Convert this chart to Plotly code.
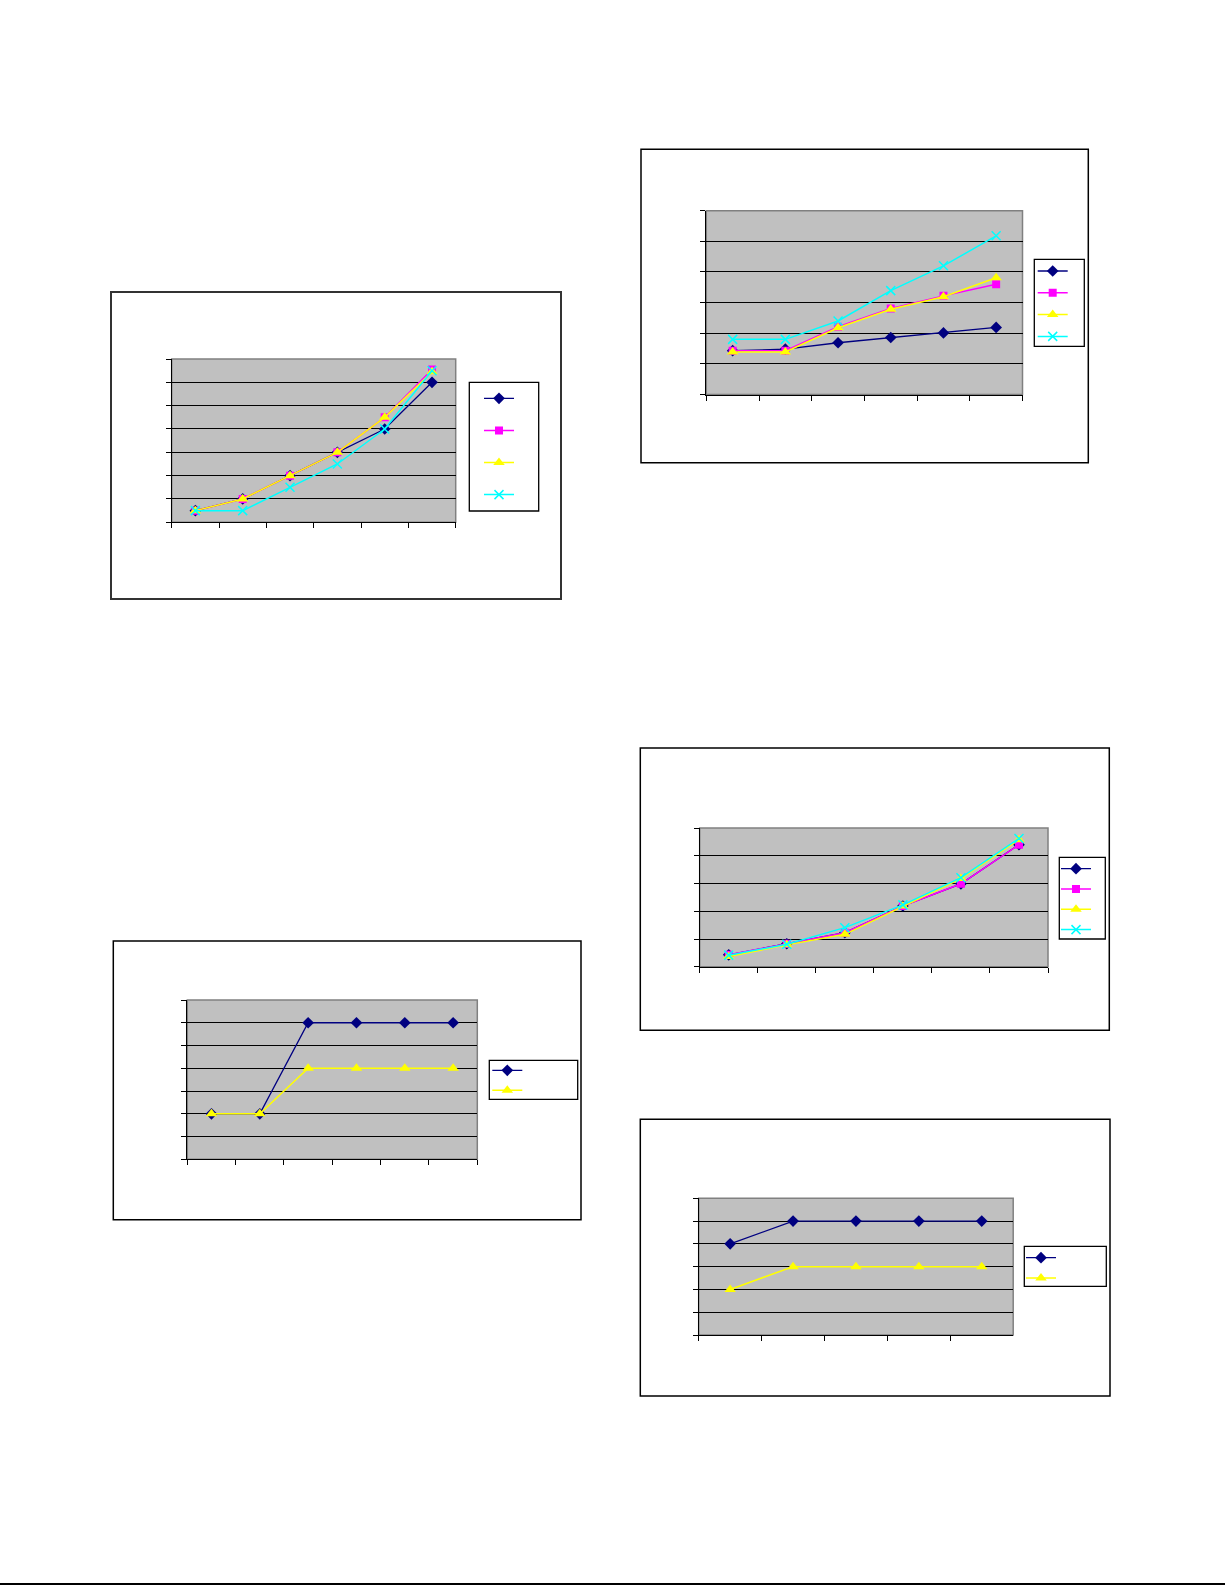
import plotly.graph_objects as go

W, H = 1225, 1585

# ---------------- data ----------------
cats6 = ["1", "2", "3", "4", "5", "6"]
cats5 = ["1", "2", "3", "4", "5"]

# chart A (top left)
a_navy = [5, 10, 20, 30, 40, 60]
a_pink = [5, 10, 20, 30, 45, 65.5]
a_yellow = [5, 10, 20, 30, 45, 64.5]
a_cyan = [5, 5, 15, 25, 40, 65]

# chart B (top right)
b_navy = [14.3, 14.8, 16.9, 18.6, 20.1, 21.9]
b_pink = [14.3, 14.3, 22.1, 28.1, 32.2, 36.0]
b_yellow = [13.9, 13.9, 21.8, 27.8, 31.9, 38.1]
b_cyan = [18.0, 18.0, 24.0, 33.9, 42.0, 51.8]

# chart C (bottom left)
c_navy = [20, 20, 60, 60, 60, 60]
c_yellow = [20, 20, 40, 40, 40, 40]

# chart D (middle right)
d_navy = [4.3, 8.3, 12.3, 21.9, 29.9, 44.0]
d_pink = [4.3, 8.3, 12.3, 21.9, 29.9, 44.0]
d_yellow = [3.7, 7.9, 11.7, 21.9, 31.8, 45.8]
d_cyan = [4.2, 8.1, 14.1, 22.3, 32.1, 46.2]

# chart E (bottom right)
e_navy = [40, 50, 50, 50, 50]
e_yellow = [20, 30, 30, 30, 30]

# ---------------- styles ----------------
STY = {
    "navy": dict(color="#000080", symbol="diamond", size=9, lw=1.3),
    "pink": dict(color="#FF00FF", symbol="square", size=8, lw=1.5),
    "yellow": dict(color="#FFFF00", symbol="triangle-up", size=10, lw=1.5),
    "cyan": dict(color="#00FFFF", symbol="x-thin", size=9, lw=1.5),
}


def fx(px):
    return px / W


def fy(py):
    return 1 - py / H


charts = [
    dict(frame=(111, 292, 561, 599), fcol="#333333", fw=2,
         plot=(171.7, 359, 455.7, 522.3), ymax=70, cats=cats6,
         series=[("navy", a_navy), ("pink", a_pink), ("yellow", a_yellow), ("cyan", a_cyan)],
         lbox=(469.3, 382.3, 538.7, 511), lfirst=398.3, lstep=32.1, lmark=499),
    dict(frame=(641, 149.3, 1088.3, 462.7), fcol="black", fw=1.5,
         plot=(706.3, 210.7, 1022.5, 394.5), ymax=60, cats=cats6,
         series=[("navy", b_navy), ("pink", b_pink), ("yellow", b_yellow), ("cyan", b_cyan)],
         lbox=(1034.3, 259.3, 1084.3, 346.3), lfirst=271, lstep=21.8, lmark=1052.7),
    dict(frame=(113.3, 941, 581, 1219.7), fcol="black", fw=1.5,
         plot=(187.3, 1000, 477.3, 1159.3), ymax=70, cats=cats6,
         series=[("navy", c_navy), ("yellow", c_yellow)],
         lbox=(489.3, 1060.3, 577.7, 1099.3), lfirst=1070.3, lstep=20, lmark=507.3),
    dict(frame=(640.3, 748, 1109.3, 1030.3), fcol="black", fw=1.5,
         plot=(699.7, 828, 1048, 966.8), ymax=50, cats=cats6,
         series=[("navy", d_navy), ("pink", d_pink), ("yellow", d_yellow), ("cyan", d_cyan)],
         lbox=(1059.3, 857.3, 1105.3, 939), lfirst=868.7, lstep=20.3, lmark=1076),
    dict(frame=(640.3, 1119.3, 1110, 1396), fcol="black", fw=1.5,
         plot=(698.7, 1198.3, 1013.2, 1335), ymax=60, cats=cats5,
         series=[("navy", e_navy), ("yellow", e_yellow)],
         lbox=(1024.3, 1246.3, 1106.3, 1286.3), lfirst=1257.7, lstep=20.3, lmark=1041),
]

fig = go.Figure()
shapes = []
layout = dict(width=W, height=H, margin=dict(l=0, r=0, t=0, b=0),
              paper_bgcolor="white", plot_bgcolor="rgba(0,0,0,0)", showlegend=True)

for i, ch in enumerate(charts):
    n = i + 1
    xa = "x" if n == 1 else f"x{n}"
    ya = "y" if n == 1 else f"y{n}"
    lg = "legend" if n == 1 else f"legend{n}"
    x0, y0, x1, y1 = ch["plot"]
    layout["xaxis" if n == 1 else f"xaxis{n}"] = dict(
        domain=[fx(x0), fx(x1)], anchor=ya, type="category",
        categoryorder="array", categoryarray=ch["cats"],
        range=[-0.5, len(ch["cats"]) - 0.5],
        showticklabels=False, ticks="outside", tickson="boundaries", ticklen=5,
        tickcolor="black", tickwidth=1, showgrid=False, showline=True,
        linecolor="black", linewidth=1, zeroline=False, fixedrange=True)
    layout["yaxis" if n == 1 else f"yaxis{n}"] = dict(
        domain=[fy(y1), fy(y0)], anchor=xa, range=[0, ch["ymax"]], dtick=10,
        showticklabels=False, ticks="outside", ticklen=5, tickcolor="black", tickwidth=1,
        showgrid=True, gridcolor="black", gridwidth=1, showline=True,
        linecolor="black", linewidth=1, zeroline=False, fixedrange=True)
    # plot area background
    shapes.append(dict(type="rect", xref="paper", yref="paper",
                       x0=fx(x0), x1=fx(x1), y0=fy(y1), y1=fy(y0),
                       fillcolor="#C0C0C0", line=dict(color="#808080", width=1.5), layer="below"))
    # chart frame
    fx0, fy0, fx1, fy1 = ch["frame"]
    shapes.append(dict(type="rect", xref="paper", yref="paper",
                       x0=fx(fx0), x1=fx(fx1), y0=fy(fy1), y1=fy(fy0),
                       fillcolor="rgba(0,0,0,0)", line=dict(color=ch["fcol"], width=ch["fw"]),
                       layer="below"))
    # legend box
    bx0, by0, bx1, by1 = ch["lbox"]
    shapes.append(dict(type="rect", xref="paper", yref="paper",
                       x0=fx(bx0), x1=fx(bx1), y0=fy(by1), y1=fy(by0),
                       fillcolor="white", line=dict(color="black", width=1.3), layer="below"))
    for key, vals in ch["series"]:
        s = STY[key]
        marker = dict(symbol=s["symbol"], size=s["size"], color=s["color"])
        if key == "cyan":
            marker["line"] = dict(color=s["color"], width=1.5)
        fig.add_trace(go.Scatter(
            x=ch["cats"], y=vals, mode="lines+markers", name="\u00a0",
            line=dict(color=s["color"], width=s["lw"]), marker=marker,
            xaxis=xa, yaxis=ya, legend=lg, hoverinfo="skip"))
    step = ch["lstep"]
    fsize = (step - 3) / 1.3
    ltop = ch["lfirst"] - 5 - step / 2
    layout[lg] = dict(x=fx(ch["lmark"] - 20), y=fy(ltop), xanchor="left", yanchor="top",
                      bgcolor="rgba(0,0,0,0)", borderwidth=0,
                      font=dict(size=fsize, family="Liberation Sans", color="black"),
                      traceorder="normal", itemwidth=30, tracegroupgap=0)

# page separator line at the bottom
shapes.append(dict(type="line", xref="paper", yref="paper", x0=0, x1=1, y0=fy(1584), y1=fy(1584),
                   line=dict(color="black", width=2)))

layout["shapes"] = shapes
fig.update_layout(**layout)
fig.write_html("out.html",
               config={"displayModeBar": False, "staticPlot": True},
               post_script="document.body.style.margin='0';document.body.style.padding='0';"
                           "document.body.style.overflow='hidden';")
